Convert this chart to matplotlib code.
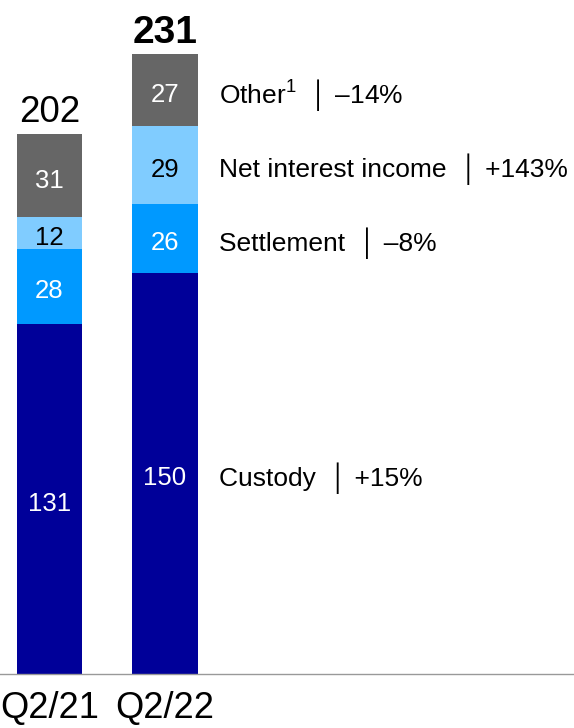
import matplotlib.pyplot as plt
import numpy as np

plt.rcParams['font.family'] = ['Liberation Sans', 'DejaVu Sans']

# data
periods = ['Q2/21', 'Q2/22']
segments = ['Custody', 'Settlement', 'Net interest income', 'Other$^1$']
custody = [131, 150]
settlement = [28, 26]
nii = [12, 29]
other = [31, 27]
totals = [202, 231]
changes = ['+15%', '\u20138%', '+143%', '\u201314%']

colors = ['#000099', '#0099ff', '#80ccff', '#666666']
text_colors = ['white', 'white', 'black', 'white']

plt.rcParams['mathtext.fontset'] = 'custom'
plt.rcParams['mathtext.rm'] = 'Liberation Sans'

fig = plt.figure(figsize=(5.74, 7.28), dpi=100)
ax = fig.add_axes([0, 54 / 728, 1, 674 / 728])

x = np.arange(len(periods))
width = 0.563
series = [custody, settlement, nii, other]
bottom = np.zeros(len(periods))
for vals, col, tc in zip(series, colors, text_colors):
    vals = np.array(vals)
    ax.bar(x, vals, width, bottom=bottom, color=col, edgecolor='none')
    for xi, b, v in zip(x, bottom, vals):
        ax.annotate(str(v), (xi, b + v / 2), xytext=(0, -3.5),
                    textcoords='offset points', ha='center', va='center',
                    color=tc, fontsize=18.5)
    bottom = bottom + vals

# totals on top
ax.annotate(str(totals[0]), (x[0], totals[0]), xytext=(0, 8.6),
            textcoords='offset points', ha='center', va='baseline',
            fontsize=26.5)
ax.annotate(str(totals[1]), (x[1], totals[1]), xytext=(0, 10),
            textcoords='offset points', ha='center', va='baseline',
            fontsize=28, fontweight='bold')

# labels to the right of last bar
bottom = 0
for vals, name, ch in zip(series, segments, changes):
    v = vals[-1]
    ax.annotate(f'{name}  \u2502 {ch}', (x[-1] + width / 2, bottom + v / 2),
                xytext=(15.5, -3.3), textcoords='offset points',
                ha='left', va='center', fontsize=19, color='black')
    bottom += v

ax.set_xlim(-0.4286, 4.541)
ax.set_ylim(0, 674 / 2.672)
ax.set_xticks(x)
ax.set_xticklabels(periods, fontsize=26)
ax.tick_params(axis='x', length=0, pad=12)
ax.set_yticks([])
for s in ['top', 'left', 'right']:
    ax.spines[s].set_visible(False)
ax.spines['bottom'].set_color('#999999')
ax.spines['bottom'].set_linewidth(1)

fig.savefig('out.png', dpi=100)
